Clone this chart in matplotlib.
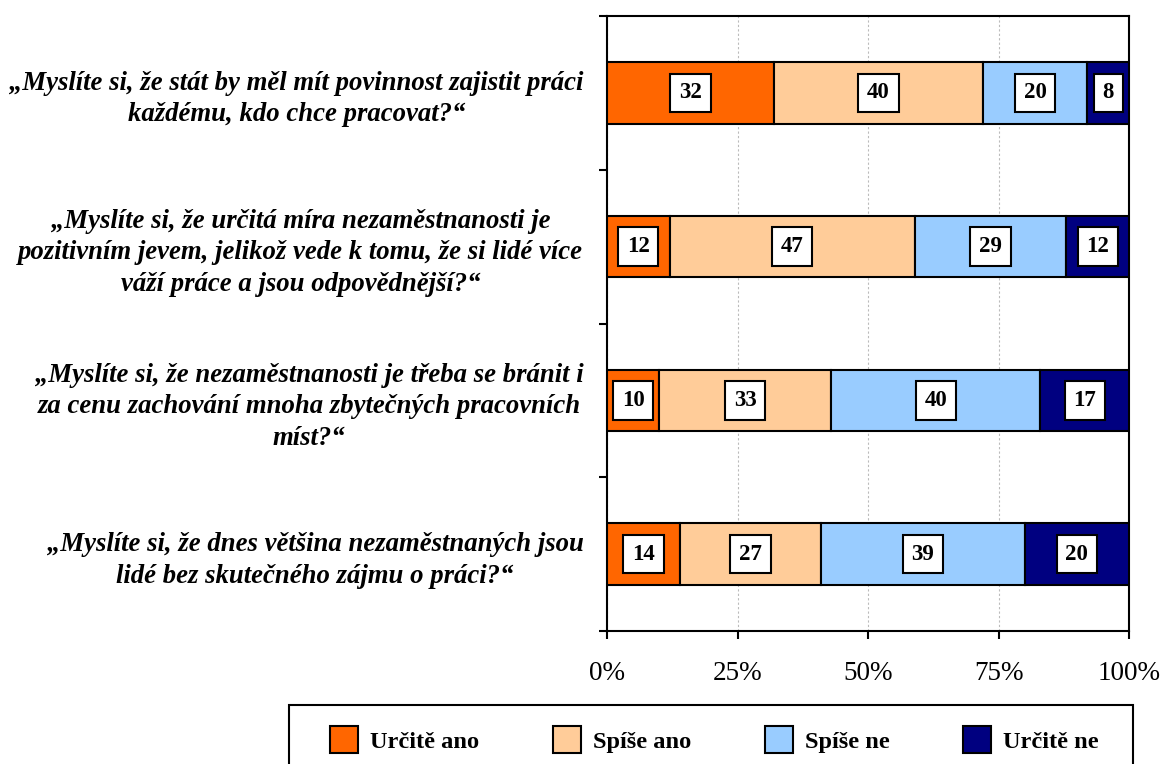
import matplotlib
matplotlib.use('Agg')
import matplotlib.pyplot as plt
from matplotlib.patches import Rectangle
from matplotlib.ticker import FixedLocator, PercentFormatter
import numpy as np

plt.rcParams['font.family'] = ['Liberation Serif', 'DejaVu Serif']

questions = [
    "„Myslíte si, že stát by měl mít povinnost zajistit práci\nkaždému, kdo chce pracovat?“",
    "„Myslíte si, že určitá míra nezaměstnanosti je\npozitivním jevem, jelikož vede k tomu, že si lidé více\nváží práce a jsou odpovědnější?“",
    "„Myslíte si, že nezaměstnanosti je třeba se bránit i\nza cenu zachování mnoha zbytečných pracovních\nmíst?“",
    "„Myslíte si, že dnes většina nezaměstnaných jsou\nlidé bez skutečného zájmu o práci?“",
]
series_names = ['Určitě ano', 'Spíše ano', 'Spíše ne', 'Určitě ne']
urcite_ano = [32, 12, 10, 14]
spise_ano = [40, 47, 33, 27]
spise_ne = [20, 29, 40, 39]
urcite_ne = [8, 12, 17, 20]
colors = ['#FF6600', '#FFCC99', '#99CCFF', '#000080']

W, H = 1164, 764
fig = plt.figure(figsize=(W / 100, H / 100), dpi=100)
ax = fig.add_axes([607 / W, 1 - 631 / H, (1129 - 607) / W, (631 - 16) / H])

y = np.arange(len(questions))
left = np.zeros(len(questions))
for name, vals, col in zip(series_names, [urcite_ano, spise_ano, spise_ne, urcite_ne], colors):
    vals = np.array(vals, dtype=float)
    ax.barh(y, vals, left=left, height=0.4, color=col, edgecolor='black',
            linewidth=1.5, label=name, zorder=3)
    for yi, l, v in zip(y, left, vals):
        ax.text(l + v / 2, yi, f'{int(v)}', ha='center', va='center',
                fontsize=16.5, fontweight='bold', zorder=5,
                bbox=dict(boxstyle='square,pad=0.38', facecolor='white',
                          edgecolor='black', linewidth=1.5))
    left += vals

ax.set_xlim(0, 100)
ax.set_ylim(len(questions) - 0.5, -0.5)
ax.xaxis.set_major_locator(FixedLocator([0, 25, 50, 75, 100]))
ax.xaxis.set_major_formatter(PercentFormatter(decimals=0))
ax.grid(axis='x', color='#BBBBBB', linestyle=(0, (2, 2)), linewidth=0.8, zorder=0)

ax.set_yticks(y)
ax.set_yticklabels(questions, fontsize=19.3, fontweight='bold', style='italic')
for lab in ax.get_yticklabels():
    lab.set_multialignment('center')
    lab.set_linespacing(1.34)
ax.set_yticks(np.arange(-0.5, len(questions)), minor=True)
ax.tick_params(axis='y', which='major', length=0, pad=17)
ax.tick_params(axis='y', which='minor', length=5.5, width=1.5, direction='out')
ax.tick_params(axis='x', which='major', length=5.5, width=1.5, direction='out',
               labelsize=19.5, pad=16)
for sp in ax.spines.values():
    sp.set_linewidth(1.5)

# legend frame runs off the bottom of the picture, so draw it separately
fig.patches.append(Rectangle((289 / W, -0.1), (1133 - 289) / W, 0.1 + 1 - 705 / H,
                             transform=fig.transFigure, facecolor='none',
                             edgecolor='black', linewidth=1.5, zorder=0))
fig.legend(loc='upper left', bbox_to_anchor=(330 / W, 1 - 726 / H), ncol=4,
           prop={'weight': 'bold', 'size': 17.6}, frameon=False,
           handlelength=1.15, handleheight=1.3, handletextpad=0.5,
           columnspacing=3.0, borderpad=0, borderaxespad=0)

fig.savefig('out.png', dpi=100)
